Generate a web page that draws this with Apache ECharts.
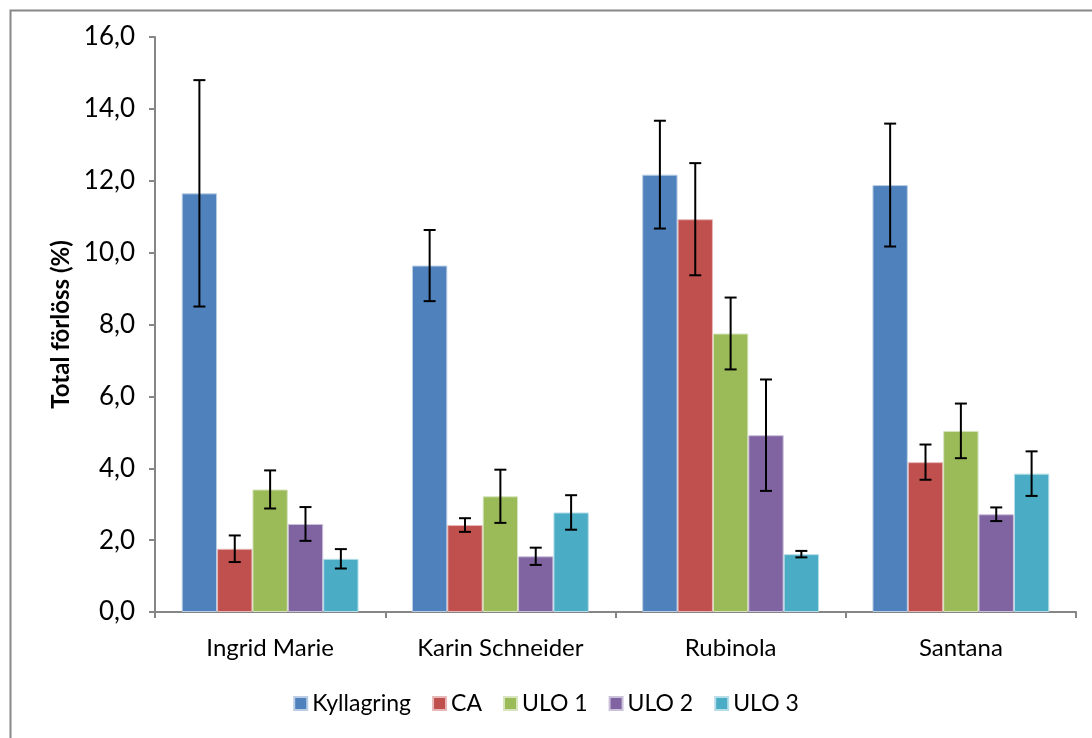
<!DOCTYPE html>
<html>
<head>
<meta charset="utf-8">
<script src="https://cdn.jsdelivr.net/npm/echarts@6/dist/echarts.min.js"></script>
<style>html,body{margin:0;padding:0;background:#fff}#c{width:1092px;height:738px}</style>
</head>
<body>
<div id="c"></div>
<script>
const categories = ['Ingrid Marie', 'Karin Schneider', 'Rubinola', 'Santana'];
const seriesNames = ['Kyllagring', 'CA', 'ULO 1', 'ULO 2', 'ULO 3'];
const kyllagring = [11.65, 9.64, 12.17, 11.88];
const ca = [1.76, 2.42, 10.93, 4.17];
const ulo1 = [3.41, 3.22, 7.75, 5.04];
const ulo2 = [2.45, 1.55, 4.92, 2.72];
const ulo3 = [1.48, 2.77, 1.61, 3.85];
const errKyllagring = [3.15, 0.99, 1.50, 1.71];
const errCA = [0.37, 0.19, 1.56, 0.49];
const errULO1 = [0.53, 0.74, 1.00, 0.76];
const errULO2 = [0.47, 0.24, 1.55, 0.19];
const errULO3 = [0.27, 0.48, 0.09, 0.62];
const yTicks = [0, 2, 4, 6, 8, 10, 12, 14, 16];

const values = [kyllagring, ca, ulo1, ulo2, ulo3];
const errors = [errKyllagring, errCA, errULO1, errULO2, errULO3];
const colors = ['#4F81BD', '#C0504D', '#9BBB59', '#8064A2', '#4BACC6'];
const borders = ['#B9CDE5', '#E6B9B8', '#D7E4BD', '#CCC1DA', '#B7DEE8'];
const catGap = 0.232;
const font = 'Lato, "Open Sans", sans-serif';

const chart = echarts.init(document.getElementById('c'));
const series = [];
seriesNames.forEach((name, i) => {
  series.push({
    name: name, type: 'bar', data: values[i], barGap: '0%', barCategoryGap: (catGap * 100) + '%',
    itemStyle: { color: colors[i], borderColor: borders[i], borderWidth: 1 },
    emphasis: { disabled: true }
  });
});
seriesNames.forEach((name, i) => {
  series.push({
    type: 'custom', name: name + ' err', silent: true, z: 10,
    data: values[i].map((v, j) => [j, v, errors[i][j]]),
    renderItem: function (params, api) {
      const idx = api.value(0), v = api.value(1), e = api.value(2);
      const band = api.size([1, 0])[0];
      const bw = band * (1 - catGap) / 5;
      const cx = api.coord([idx, 0])[0] - 2.5 * bw + (i + 0.5) * bw;
      const yt = api.coord([idx, v + e])[1];
      const yb = api.coord([idx, v - e])[1];
      const cap = 6;
      const st = { stroke: '#000', lineWidth: 2 };
      return { type: 'group', children: [
        { type: 'line', shape: { x1: cx, y1: yt, x2: cx, y2: yb }, style: st },
        { type: 'line', shape: { x1: cx - cap, y1: yt, x2: cx + cap, y2: yt }, style: st },
        { type: 'line', shape: { x1: cx - cap, y1: yb, x2: cx + cap, y2: yb }, style: st }
      ]};
    }
  });
});

chart.setOption({
  animation: false,
  backgroundColor: '#fff',
  textStyle: { fontFamily: font },
  graphic: [{ type: 'rect', left: 8, top: 8, shape: { width: 1200, height: 800 }, style: { fill: 'none', stroke: '#878787', lineWidth: 2 }, z: -1 }],
  grid: { left: 155, right: 16, top: 37, bottom: 126 },
  legend: {
    data: seriesNames, bottom: 18, left: 'center', itemWidth: 13, itemHeight: 13, itemGap: 21,
    icon: 'rect', textStyle: { fontSize: 23, color: '#000', fontFamily: font }
  },
  xAxis: {
    type: 'category', data: categories,
    axisLine: { lineStyle: { color: '#868686', width: 2 } },
    axisTick: { show: true, length: 6, lineStyle: { color: '#868686', width: 2 } },
    axisLabel: { color: '#000', fontSize: 24, margin: 24, fontFamily: font }
  },
  yAxis: {
    type: 'value', min: yTicks[0], max: yTicks[yTicks.length - 1], interval: 2,
    name: 'Total förlöss (%)', nameLocation: 'middle', nameGap: 79, nameRotate: 90,
    nameTextStyle: { fontSize: 24, fontWeight: 'bold', color: '#000', fontFamily: font },
    axisLine: { show: true, lineStyle: { color: '#868686', width: 2 } },
    axisTick: { show: true, length: 6, lineStyle: { color: '#868686', width: 2 } },
    splitLine: { show: false },
    axisLabel: { color: '#000', fontSize: 26, margin: 20, fontFamily: font,
      formatter: v => v.toFixed(1).replace('.', ',') }
  },
  series: series
});
</script>
</body>
</html>
